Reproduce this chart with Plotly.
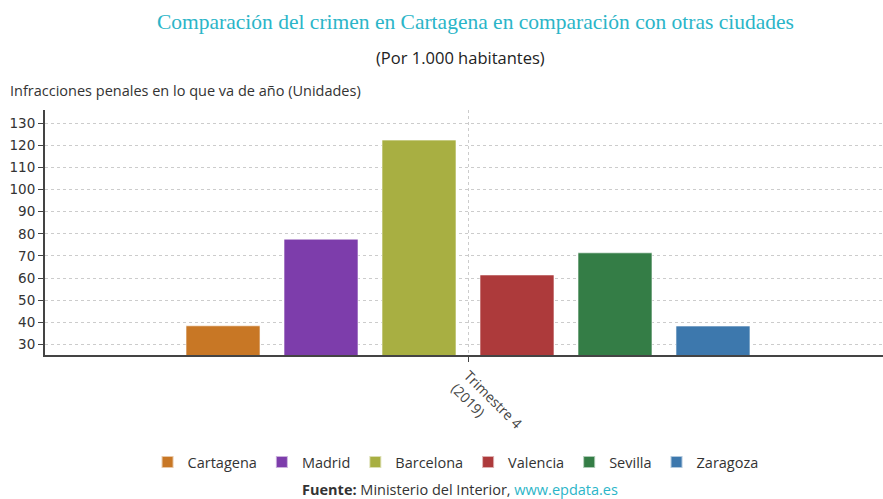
import plotly.graph_objects as go

categories = ["Trimestre 4<br>(2019)"]
series_names = ["Cartagena", "Madrid", "Barcelona", "Valencia", "Sevilla", "Zaragoza"]
series_values = [38.4, 77.6, 122.4, 61.4, 71.4, 38.3]
series_colors = ["#c87725", "#7d3dab", "#a8af42", "#ad3a3b", "#347d46", "#3d78ad"]
y_ticks = [30, 40, 50, 60, 70, 80, 90, 100, 110, 120, 130]

fig = go.Figure()
for name, val, col in zip(series_names, series_values, series_colors):
    fig.add_trace(go.Bar(
        x=categories, y=[val], name=name,
        marker=dict(color=col, line=dict(color="rgba(255,255,255,0.6)", width=1)),
        hovertemplate="%{y}<extra>" + name + "</extra>",
    ))

# the plot runs past the right edge of the window, as in the original
fig.update_layout(
    width=891, height=499,
    margin=dict(l=45, r=0, t=110, b=144, autoexpand=False),
    plot_bgcolor="white", paper_bgcolor="white",
    barmode="group", bargap=0.305, bargroupgap=0.245,
    showlegend=True,
    legend=dict(orientation="h", x=0.4853, xanchor="center", y=-0.437, yanchor="middle",
                font=dict(family="Open Sans", size=14.5, color="#333"),
                traceorder="normal", itemsizing="constant"),
    font=dict(family="DejaVu Sans", color="#333"),
    xaxis=dict(
        range=[-0.5, 0.5], type="category", automargin=False,
        showline=True, linecolor="#444", linewidth=2,
        showgrid=True, gridcolor="#cccccc", griddash="dot", gridwidth=1,
        ticks="outside", ticklen=5, tickcolor="#444",
        tickangle=45, tickfont=dict(family="Open Sans", size=14, color="#444"),
        fixedrange=True,
    ),
    yaxis=dict(
        range=[25.2, 136], tickvals=y_ticks, automargin=False,
        showline=True, linecolor="#444", linewidth=2,
        showgrid=True, gridcolor="#cccccc", griddash="dot", gridwidth=1,
        ticks="outside", ticklen=5, tickcolor="#444",
        tickfont=dict(family="DejaVu Sans", size=13.5, color="#333"),
        zeroline=False, fixedrange=True,
    ),
)

fig.add_annotation(text="Comparación del crimen en Cartagena en comparación con otras ciudades",
                   xref="paper", yref="paper", x=0.5, y=1, xshift=7, yshift=88,
                   showarrow=False, xanchor="center", yanchor="middle",
                   font=dict(family="Liberation Serif", size=21.5, color="#2bb5c8"))
fig.add_annotation(text="(Por 1.000 habitantes)",
                   xref="paper", yref="paper", x=0.5, y=1, xshift=-8, yshift=53,
                   showarrow=False, xanchor="center", yanchor="middle",
                   font=dict(family="Open Sans", size=16.5, color="#222"))
fig.add_annotation(text="Infracciones penales en lo que va de año (Unidades)",
                   xref="paper", yref="paper", x=0, y=1, xshift=-37, yshift=20,
                   showarrow=False, xanchor="left", yanchor="middle",
                   font=dict(family="Open Sans", size=14.5, color="#333"))
fig.add_annotation(text="<b>Fuente:</b> Ministerio del Interior, <span style='color:#2bb5c8'>www.epdata.es</span>",
                   xref="paper", yref="paper", x=0.5, y=0, xshift=-8, yshift=-134,
                   showarrow=False, xanchor="center", yanchor="middle",
                   font=dict(family="Open Sans", size=14.5, color="#333"))

fig.write_html(
    "out.html",
    config={"displayModeBar": False},
    post_script="document.body.style.margin='0';document.body.style.overflow='hidden';",
)
